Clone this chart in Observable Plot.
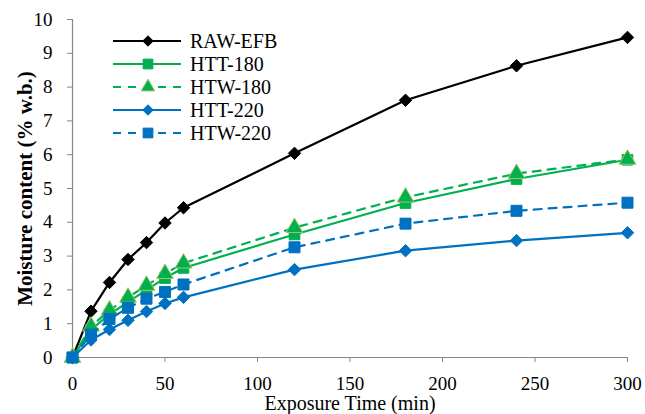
<!DOCTYPE html>
<html><head><meta charset="utf-8">
<style>
html,body{margin:0;padding:0;background:#fff;}
#wrap{position:relative;width:645px;height:414px;font-family:"Liberation Serif",serif;}
#legend{position:absolute;left:0;top:0;}
</style>
</head><body>
<div id="wrap"></div>
<script src="https://cdn.jsdelivr.net/npm/d3@7"></script>
<script src="https://cdn.jsdelivr.net/npm/@observablehq/plot@0.6"></script>
<script>
// ---- data ----
const times   = [0, 10, 20, 30, 40, 50, 60, 120, 180, 240, 300];
const rawEFB  = [0, 1.37, 2.22, 2.90, 3.40, 3.98, 4.43, 6.04, 7.61, 8.63, 9.47];
const htt180  = [0, 0.82, 1.28, 1.64, 2.00, 2.35, 2.65, 3.64, 4.57, 5.28, 5.85];
const htw180  = [0, 0.92, 1.40, 1.78, 2.13, 2.48, 2.79, 3.84, 4.74, 5.44, 5.86];
const htt220  = [0, 0.52, 0.83, 1.10, 1.36, 1.60, 1.78, 2.60, 3.16, 3.46, 3.69];
const htw220  = [0, 0.68, 1.14, 1.47, 1.74, 1.94, 2.16, 3.26, 3.96, 4.34, 4.58];
const seriesNames = ["RAW-EFB", "HTT-180", "HTW-180", "HTT-220", "HTW-220"];
const seriesValues = [rawEFB, htt180, htw180, htt220, htw220];
const xTicks = [0, 50, 100, 150, 200, 250, 300];
const yTicks = [0, 1, 2, 3, 4, 5, 6, 7, 8, 9, 10];
const xLabel = "Exposure Time (min)";
const yLabel = "Moisture content (% w.b.)";

// ---- styles ----
const FONT = '"Liberation Serif", serif';
const GREEN = "#00b050", BLUE = "#0070c0", GRAY = "#868686";
const styles = [
  {stroke: "black", dash: null, symbol: "diamond2", r: 5.6, fill: "black", mstroke: "black", d3sym: d3.symbolDiamond2, lsize: 70},
  {stroke: GREEN, dash: null, symbol: "square", r: 6.0, fill: GREEN, mstroke: GREEN, d3sym: d3.symbolSquare, lsize: 95},
  {stroke: GREEN, dash: "8,7", symbol: "triangle", r: 6.2, fill: GREEN, mstroke: "#a5c25f", d3sym: d3.symbolTriangle, lsize: 80},
  {stroke: BLUE, dash: null, symbol: "diamond2", r: 5.6, fill: BLUE, mstroke: BLUE, d3sym: d3.symbolDiamond2, lsize: 70},
  {stroke: BLUE, dash: "8,7", symbol: "square", r: 6.2, fill: BLUE, mstroke: BLUE, d3sym: d3.symbolSquare, lsize: 95}
];

const marks = [
  Plot.ruleX([0], {stroke: GRAY, strokeWidth: 1.2}),
  Plot.ruleY([0], {stroke: GRAY, strokeWidth: 1.2}),
  Plot.axisY({ticks: yTicks, tickSize: 5, tickPadding: 15, fontSize: 19, stroke: GRAY, fill: "black", label: null}),
  Plot.axisX({ticks: xTicks, tickSize: 5, tickPadding: 14, fontSize: 19, stroke: GRAY, fill: "black", label: null}),
  Plot.text([yLabel], {text: d => d, frameAnchor: "left", textAnchor: "middle", lineAnchor: "middle", rotate: -90, dx: -47, fontSize: 21, fontWeight: "bold", fill: "black"}),
  Plot.text([xLabel], {text: d => d, frameAnchor: "bottom", textAnchor: "middle", lineAnchor: "middle", dy: 46, fontSize: 20, fill: "black"})
];
seriesNames.forEach((name, i) => {
  const rows = times.map((t, j) => ({t, v: seriesValues[i][j], s: name}));
  const st = styles[i];
  marks.push(Plot.line(rows, {x: "t", y: "v", stroke: st.stroke, strokeWidth: 2.2, strokeDasharray: st.dash}));
  marks.push(Plot.dot(rows, {x: "t", y: "v", symbol: st.symbol, r: st.r, fill: st.fill, stroke: st.mstroke, strokeWidth: 1}));
});

const chart = Plot.plot({
  width: 645, height: 414,
  marginLeft: 72, marginRight: 18, marginTop: 19, marginBottom: 57,
  x: {domain: [0, 300]},
  y: {domain: [0, 10]},
  style: {fontFamily: FONT, background: "white", color: "black"},
  marks
});
const wrap = document.getElementById("wrap");
wrap.appendChild(chart);

// ---- legend overlay ----
const leg = d3.select(wrap).append("svg").attr("id", "legend")
  .attr("width", 645).attr("height", 414);
seriesNames.forEach((name, i) => {
  const st = styles[i];
  const y = 41 + 23 * i;
  leg.append("line").attr("x1", 113).attr("x2", 181).attr("y1", y).attr("y2", y)
    .attr("stroke", st.stroke).attr("stroke-width", 2.2)
    .attr("stroke-dasharray", st.dash ? "8,7" : null);
  leg.append("path").attr("d", d3.symbol(st.d3sym, st.lsize)())
    .attr("transform", `translate(148,${y})`)
    .attr("fill", st.fill).attr("stroke", st.mstroke).attr("stroke-width", 1);
  leg.append("text").attr("x", 190).attr("y", y).attr("dy", "0.35em")
    .attr("font-size", 20).attr("font-family", FONT).attr("fill", "black").text(name);
});
</script></body></html>
